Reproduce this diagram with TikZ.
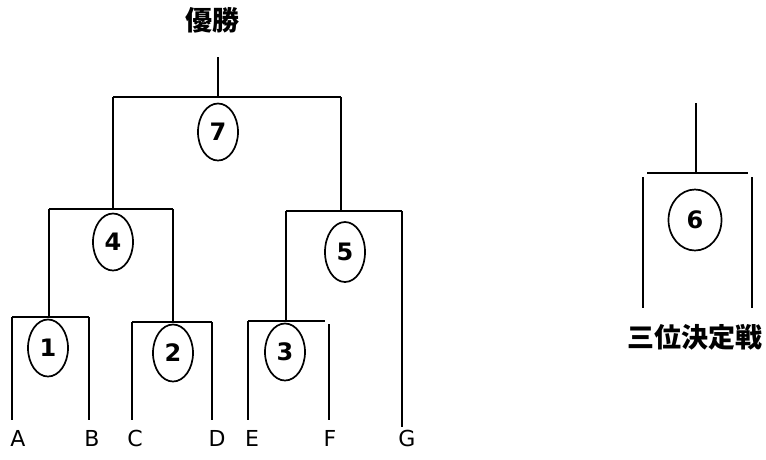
\documentclass[tikz,border=0pt]{standalone}
\usepackage{fontspec}
\setsansfont{DejaVu Sans}
\newfontfamily\cjk{Noto Sans CJK JP}
\usetikzlibrary{shapes.geometric}

\begin{document}
\begin{tikzpicture}[x=1pt,y=-1pt,
    match/.style={shape=ellipse, draw, line width=1.7pt, minimum width=40pt, minimum height=57pt, inner sep=0pt, font=\sffamily\bfseries\fontsize{24}{24}\selectfont},
    team/.style={font=\sffamily\fontsize{22}{22}\selectfont},
    jtext/.style={font=\cjk\bfseries\fontsize{27}{27}\selectfont},
    bar/.style={line width=2.4pt},
    leg/.style={line width=1.3pt}]
    \useasboundingbox (0,0) rectangle (766,459);

    % teams
    \node[team] (A) at (18,438) {A};
    \node[team] (B) at (92,438) {B};
    \node[team] (C) at (135,438) {C};
    \node[team] (D) at (217,438) {D};
    \node[team] (E) at (252,438) {E};
    \node[team] (F) at (330,438) {F};
    \node[team] (G) at (407,438) {G};

    % bar corners
    \coordinate (b1l) at (12,317);  \coordinate (b1r) at (89,317);
    \coordinate (b2l) at (132,322); \coordinate (b2r) at (212,322);
    \coordinate (b3l) at (248,321); \coordinate (b3r) at (325,321);
    \coordinate (b4l) at (49,209);  \coordinate (b4r) at (173,209);
    \coordinate (b5l) at (286,211); \coordinate (b5r) at (402,211);
    \coordinate (b7l) at (113,97);  \coordinate (b7r) at (341,97);
    \coordinate (b6l) at (647,173); \coordinate (b6r) at (748,173);
    \coordinate (top7) at (218,57); \coordinate (top6) at (696,103);
    \coordinate (f1) at (329,324);
    \coordinate (l6a) at (643,177); \coordinate (l6b) at (752,177);

    % first round
    \draw[bar] (b1l) -- (b1r);
    \draw[leg] (b1l) -- (12,420);
    \draw[leg] (b1r) -- (89,420);
    \draw[bar] (b2l) -- (b2r);
    \draw[leg] (b2l) -- (132,420);
    \draw[leg] (b2r) -- (212,420);
    \draw[bar] (b3l) -- (b3r);
    \draw[leg] (b3l) -- (248,420);
    \draw[leg] (f1) -- (329,420);

    % second round
    \draw[bar] (b4l) -- (b4r);
    \draw[leg] (b4l) -- (b4l |- b1l);
    \draw[leg] (b4r) -- (b4r |- b2l);
    \draw[bar] (b5l) -- (b5r);
    \draw[leg] (b5l) -- (b5l |- b3l);
    \draw[leg] (b5r) -- (402,427);

    % final
    \draw[bar] (b7l) -- (b7r);
    \draw[leg] (b7l) -- (b7l |- b4l);
    \draw[leg] (b7r) -- (b7r |- b5l);
    \draw[leg] (top7) -- (top7 |- b7l);
    \node[jtext] (win) at (212,20) {優勝};

    % third place
    \draw[bar] (b6l) -- (b6r);
    \draw[leg] (top6) -- (top6 |- b6l);
    \draw[leg] (l6a) -- (643,308);
    \draw[leg] (l6b) -- (752,308);
    \node[jtext] (third) at (695,337) {三位決定戦};

    % matches
    \node[match] (m1) at (48,348) {1};
    \node[match] (m2) at (173,353) {2};
    \node[match] (m3) at (285,352) {3};
    \node[match] (m4) at (113,242) {4};
    \node[match, minimum height=60pt] (m5) at (345,252) {5};
    \node[match] (m7) at (218,132) {7};
    \node[match, minimum width=53pt, minimum height=61pt] (m6) at (695,220) {6};
\end{tikzpicture}
\end{document}
